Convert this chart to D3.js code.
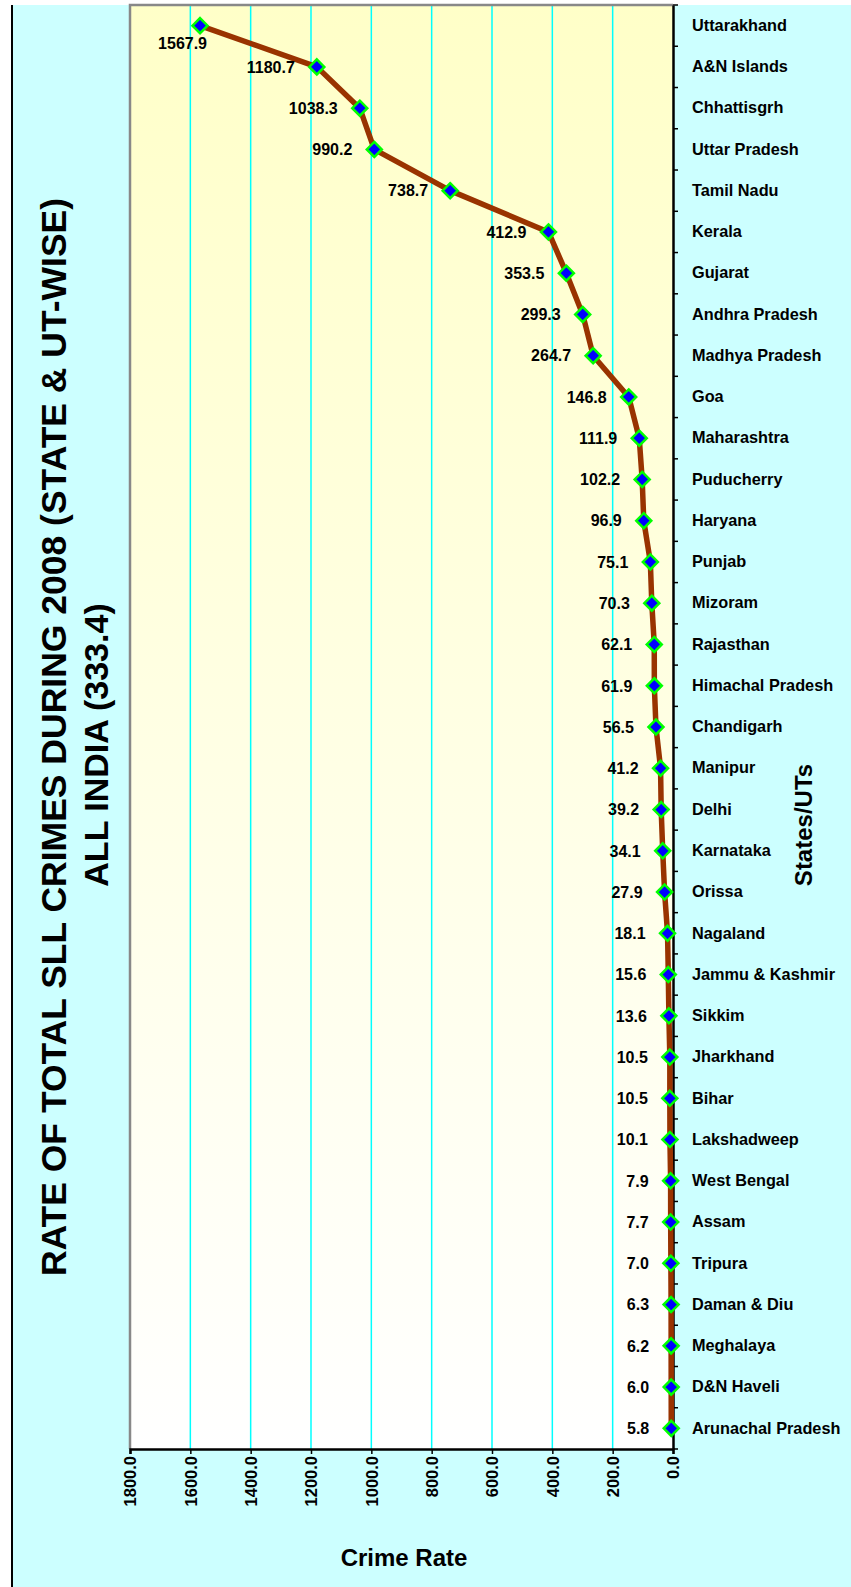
<!DOCTYPE html>
<html><head><meta charset="utf-8">
<script src="https://cdn.jsdelivr.net/npm/d3@7"></script>
<style>html,body{margin:0;padding:0;background:#fff;}svg{display:block;font-family:Arial,"Liberation Sans",sans-serif;}</style>
</head><body>
<script>
const categories = ["Uttarakhand","A&N Islands","Chhattisgrh","Uttar Pradesh","Tamil Nadu","Kerala","Gujarat","Andhra Pradesh","Madhya Pradesh","Goa","Maharashtra","Puducherry","Haryana","Punjab","Mizoram","Rajasthan","Himachal Pradesh","Chandigarh","Manipur","Delhi","Karnataka","Orissa","Nagaland","Jammu & Kashmir","Sikkim","Jharkhand","Bihar","Lakshadweep","West Bengal","Assam","Tripura","Daman & Diu","Meghalaya","D&N Haveli","Arunachal Pradesh"];
const values = [1567.9,1180.7,1038.3,990.2,738.7,412.9,353.5,299.3,264.7,146.8,111.9,102.2,96.9,75.1,70.3,62.1,61.9,56.5,41.2,39.2,34.1,27.9,18.1,15.6,13.6,10.5,10.5,10.1,7.9,7.7,7.0,6.3,6.2,6.0,5.8];
const xTicks = [1800,1600,1400,1200,1000,800,600,400,200,0];
const titleLines = ["RATE OF TOTAL SLL CRIMES DURING 2008 (STATE & UT-WISE)","ALL INDIA (333.4)"];
const xTitle = "Crime Rate";
const yTitle = "States/UTs";

const W = 851, H = 1587;
const plot = {left:130, right:673, top:5, bottom:1449};

const svg = d3.select("body").append("svg").attr("width",W).attr("height",H);
const defs = svg.append("defs");
const grad = defs.append("linearGradient").attr("id","pg").attr("x1",0).attr("y1",0).attr("x2",0).attr("y2",1);
grad.append("stop").attr("offset","0%").attr("stop-color","#ffffc8");
grad.append("stop").attr("offset","100%").attr("stop-color","#ffffff");

// chart background
svg.append("rect").attr("x",11).attr("y",5).attr("width",W-11).attr("height",H-5).attr("fill","#ccffff");
svg.append("line").attr("x1",12).attr("x2",12).attr("y1",5).attr("y2",H).attr("stroke","#000").attr("stroke-width",2);

const x = d3.scaleLinear().domain([1800,0]).range([plot.left,plot.right]);
const y = d3.scaleBand().domain(categories).range([plot.top,plot.bottom]);

// plot area
svg.append("rect").attr("x",plot.left).attr("y",plot.top).attr("width",plot.right-plot.left).attr("height",plot.bottom-plot.top).attr("fill","url(#pg)");

// gridlines
svg.append("g").selectAll("line").data(xTicks.filter(t=>t!==0 && t!==1800)).join("line")
  .attr("x1",d=>x(d)).attr("x2",d=>x(d)).attr("y1",plot.top).attr("y2",plot.bottom)
  .attr("stroke","#00ffff").attr("stroke-width",1.5);

// plot border left/top gray
svg.append("path").attr("d",`M${plot.left},${plot.bottom}V${plot.top}H${plot.right}`).attr("fill","none").attr("stroke","#888").attr("stroke-width",2.5);

// x axis
const xAxis = svg.append("g").attr("transform",`translate(0,${plot.bottom})`)
  .call(d3.axisBottom(x).tickValues(xTicks).tickSize(5).tickFormat(d=>d3.format(".1f")(d)));
xAxis.select(".domain").attr("stroke","#000").attr("stroke-width",2.5);
xAxis.selectAll(".tick line").attr("stroke","#000").attr("stroke-width",1.5);
xAxis.selectAll(".tick text").attr("transform","rotate(-90)").attr("x",-7).attr("y",0).attr("dy","0.35em")
  .attr("text-anchor","end").attr("font-size",16.5).attr("font-weight","bold").attr("fill","#000");

// y axis on right
const yAxis = svg.append("g").attr("transform",`translate(${plot.right},0)`)
  .call(d3.axisRight(y).tickSize(0).tickPadding(19));
yAxis.select(".domain").attr("stroke","#000").attr("stroke-width",2.5);
yAxis.selectAll(".tick text").attr("font-size",16.3).attr("font-weight","bold").attr("fill","#000");
// boundary ticks
const bounds = d3.range(categories.length+1).map(i=>plot.top + i*y.step());
yAxis.append("g").selectAll("line").data(bounds).join("line")
  .attr("x1",0).attr("x2",5).attr("y1",d=>d).attr("y2",d=>d).attr("stroke","#000").attr("stroke-width",1.5);

const cy = c => y(c) + y.bandwidth()/2;

// line
const lineGen = d3.line().x((d,i)=>x(values[i])).y((d,i)=>cy(categories[i]));
svg.append("path").datum(categories).attr("d",lineGen).attr("fill","none").attr("stroke","#993300").attr("stroke-width",5.5).attr("stroke-linejoin","round");

// markers
const r = 7.5;
svg.append("g").selectAll("path").data(categories).join("path")
  .attr("d",(c,i)=>{const px=x(values[i]), py=cy(c); return `M${px},${py-r}L${px+r},${py}L${px},${py+r}L${px-r},${py}Z`;})
  .attr("fill","#0000ff").attr("stroke","#00ff00").attr("stroke-width",2.5);

// data labels
svg.append("g").selectAll("text").data(categories).join("text")
  .attr("x",(c,i)=> i===0 ? x(values[i])+7 : x(values[i])-22)
  .attr("y",(c,i)=> i===0 ? cy(c)+18 : cy(c))
  .attr("dy","0.36em").attr("text-anchor","end")
  .attr("font-size",16).attr("font-weight","bold").attr("fill","#000")
  .text((c,i)=>d3.format(".1f")(values[i]));

// titles
svg.append("text").attr("transform","translate(66,737) rotate(-90)").attr("text-anchor","middle").attr("font-size",35.5).attr("font-weight","bold").text(titleLines[0]);
svg.append("text").attr("transform","translate(108,745) rotate(-90)").attr("text-anchor","middle").attr("font-size",34).attr("font-weight","bold").text(titleLines[1]);

svg.append("text").attr("x",404).attr("y",1566).attr("text-anchor","middle").attr("font-size",24).attr("font-weight","bold").text(xTitle);
svg.append("text").attr("transform","translate(812,825) rotate(-90)").attr("text-anchor","middle").attr("font-size",24).attr("font-weight","bold").text(yTitle);
</script>
</body></html>
